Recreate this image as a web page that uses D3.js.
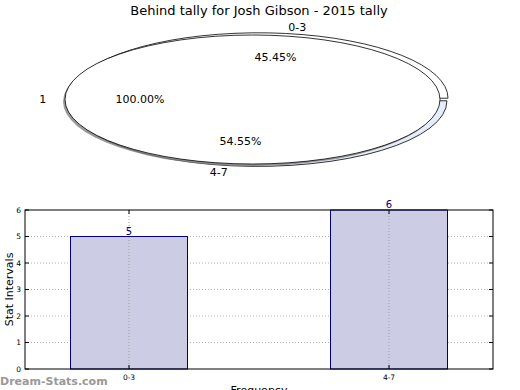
<!DOCTYPE html>
<html>
<head>
<meta charset="utf-8">
<script src="https://cdnjs.cloudflare.com/ajax/libs/d3/7.8.5/d3.min.js"></script>
<style>
  body { margin: 0; background: #fff; }
  text { font-family: "DejaVu Sans", sans-serif; }
</style>
</head>
<body>
<div id="chart"></div>
<script>
// data
const titleText   = "Behind tally for Josh Gibson - 2015 tally";
const innerLabels = ["1"];
const innerValues = [11];
const outerLabels = ["0-3", "4-7"];
const outerValues = [5, 6];
const outerColors = ["#ffffff", "#e6ecf9"];
const yTicks      = [0, 1, 2, 3, 4, 5, 6];

const width = 520, height = 390;

const svg = d3.select("#chart")
  .append("svg")
    .attr("width", width)
    .attr("height", height);

svg.append("text")
  .attr("x", 259).attr("y", 15)
  .attr("text-anchor", "middle")
  .style("font-size", "13px")
  .text(titleText);

// ---- pie (squashed into an ellipse) ----
const inner = { cx: 252.5, cy: 99.5, rx: 187.5, ry: 64.5 };
const outer = { cx: 258, cy: 99.5, rx: 189.5, ry: 65.5, explode: 0.02 };

// matplotlib style: start at 3 o'clock, go counter-clockwise
const pie = d3.pie().sort(null)
  .startAngle(Math.PI / 2)
  .endAngle(Math.PI / 2 - 2 * Math.PI);

const unitArc = d3.arc().innerRadius(0).outerRadius(1);

function midOf(d) { return (d.startAngle + d.endAngle) / 2; }
function pos(o, a, r) {
  return [o.cx + Math.sin(a) * r * o.rx, o.cy - Math.cos(a) * r * o.ry];
}

const outerArcs = pie(outerValues);
const outerG = svg.append("g")
  .attr("transform", `translate(${outer.cx},${outer.cy}) scale(${outer.rx},${outer.ry})`);

outerG.selectAll("path")
  .data(outerArcs)
  .enter()
  .append("path")
    .attr("d", unitArc)
    .attr("transform", d => `translate(${Math.sin(midOf(d)) * outer.explode},${-Math.cos(midOf(d)) * outer.explode})`)
    .attr("fill", (d, i) => outerColors[i])
    .attr("stroke", "#000")
    .attr("stroke-width", 0.8)
    .attr("vector-effect", "non-scaling-stroke");

// inner pie with shadow
svg.append("ellipse")
  .attr("cx", inner.cx - 2).attr("cy", inner.cy + 2)
  .attr("rx", inner.rx).attr("ry", inner.ry)
  .attr("fill", "#7f7f7f")
  .attr("opacity", 0.8);

const innerArcs = pie(innerValues);
svg.append("ellipse")
  .attr("cx", inner.cx).attr("cy", inner.cy)
  .attr("rx", inner.rx).attr("ry", inner.ry)
  .attr("fill", "#fff")
  .attr("stroke", "#000")
  .attr("stroke-width", 0.8);

// pie labels
function addLabel(o, d, label, r, explode) {
  const a = midOf(d);
  const p = pos(o, a, r + explode);
  const s = Math.sin(a);
  svg.append("text")
    .attr("x", p[0]).attr("y", p[1])
    .attr("dy", "0.35em")
    .attr("text-anchor", Math.abs(s) < 1e-6 ? "middle" : (s > 0 ? "start" : "end"))
    .style("font-size", "11px")
    .text(label);
}
function addPct(o, d, total, r, explode) {
  const a = midOf(d);
  const p = pos(o, a, r + explode);
  svg.append("text")
    .attr("x", p[0]).attr("y", p[1])
    .attr("dy", "0.35em")
    .attr("text-anchor", "middle")
    .style("font-size", "11px")
    .text((d.value / total * 100).toFixed(2) + "%");
}

const innerTotal = d3.sum(innerValues), outerTotal = d3.sum(outerValues);
innerArcs.forEach((d, i) => {
  const dd = { startAngle: d.startAngle, endAngle: d.endAngle, value: d.value };
  addLabel(inner, dd, innerLabels[i], 1.1, 0);
  addPct(inner, dd, innerTotal, 0.6, 0);
});
outerArcs.forEach((d, i) => {
  addLabel(outer, d, outerLabels[i], 1.1, outer.explode);
  addPct(outer, d, outerTotal, 0.63, outer.explode);
});

// ---- bar chart ----
const plot = { left: 25, right: 493, top: 210, bottom: 369 };

const x = d3.scaleLinear()
  .domain([-0.4, outerLabels.length - 0.6])
  .range([plot.left, plot.right]);
const y = d3.scaleLinear()
  .domain([0, 6])
  .range([plot.bottom, plot.top]);
const barW = 0.45;

const bar = svg.append("g");

// grid
bar.selectAll(".hgrid")
  .data(yTicks.slice(1, -1))
  .enter()
  .append("line")
    .attr("x1", plot.left).attr("x2", plot.right)
    .attr("y1", d => y(d)).attr("y2", d => y(d))
    .attr("stroke", "#b0b0b0")
    .attr("stroke-width", 1)
    .attr("stroke-dasharray", "1,2");

bar.selectAll(".rect")
  .data(outerValues)
  .enter()
  .append("rect")
    .attr("x", (d, i) => x(i - barW / 2))
    .attr("y", d => y(d))
    .attr("width", x(barW) - x(0))
    .attr("height", d => y(0) - y(d))
    .attr("fill", "#ccccE5")
    .attr("stroke", "#000080")
    .attr("stroke-width", 1);

bar.selectAll(".vgrid")
  .data(outerLabels)
  .enter()
  .append("line")
    .attr("x1", (d, i) => x(i)).attr("x2", (d, i) => x(i))
    .attr("y1", plot.top).attr("y2", plot.bottom)
    .attr("stroke", "#a0a0a0")
    .attr("stroke-width", 1)
    .attr("stroke-dasharray", "1,2");

bar.selectAll(".val")
  .data(outerValues)
  .enter()
  .append("text")
    .attr("x", (d, i) => x(i))
    .attr("y", d => y(d) - 2)
    .attr("text-anchor", "middle")
    .attr("fill", "#000080")
    .style("font-size", "10px")
    .text(d => d);

// frame
bar.append("rect")
  .attr("x", plot.left).attr("y", plot.top)
  .attr("width", plot.right - plot.left)
  .attr("height", plot.bottom - plot.top)
  .attr("fill", "none")
  .attr("stroke", "#000")
  .attr("stroke-width", 1);

// ticks inside, both sides
yTicks.forEach(t => {
  bar.append("line").attr("x1", plot.left).attr("x2", plot.left + 4)
    .attr("y1", y(t)).attr("y2", y(t)).attr("stroke", "#000");
  bar.append("line").attr("x1", plot.right).attr("x2", plot.right - 4)
    .attr("y1", y(t)).attr("y2", y(t)).attr("stroke", "#000");
  bar.append("text")
    .attr("x", plot.left - 4).attr("y", y(t))
    .attr("dy", "0.35em")
    .attr("text-anchor", "end")
    .style("font-size", "7.5px")
    .text(t);
});
outerLabels.forEach((l, i) => {
  bar.append("line").attr("x1", x(i)).attr("x2", x(i))
    .attr("y1", plot.bottom).attr("y2", plot.bottom - 4).attr("stroke", "#000");
  bar.append("line").attr("x1", x(i)).attr("x2", x(i))
    .attr("y1", plot.top).attr("y2", plot.top + 4).attr("stroke", "#000");
  bar.append("text")
    .attr("x", x(i)).attr("y", plot.bottom + 11)
    .attr("text-anchor", "middle")
    .style("font-size", "7.5px")
    .text(l);
});

svg.append("text")
  .attr("transform", `translate(13,${(plot.top + plot.bottom) / 2}) rotate(-90)`)
  .attr("text-anchor", "middle")
  .style("font-size", "11px")
  .text("Stat Intervals");

// axis label sits partly below the bottom edge, as in the original
svg.append("text")
  .attr("x", (plot.left + plot.right) / 2).attr("y", 394)
  .attr("text-anchor", "middle")
  .style("font-size", "11px")
  .text("Frequency");

svg.append("text")
  .attr("x", 0).attr("y", 385)
  .attr("fill", "#999")
  .style("font-size", "11px")
  .style("font-weight", "bold")
  .text("Dream-Stats.com");
</script>
</body>
</html>
